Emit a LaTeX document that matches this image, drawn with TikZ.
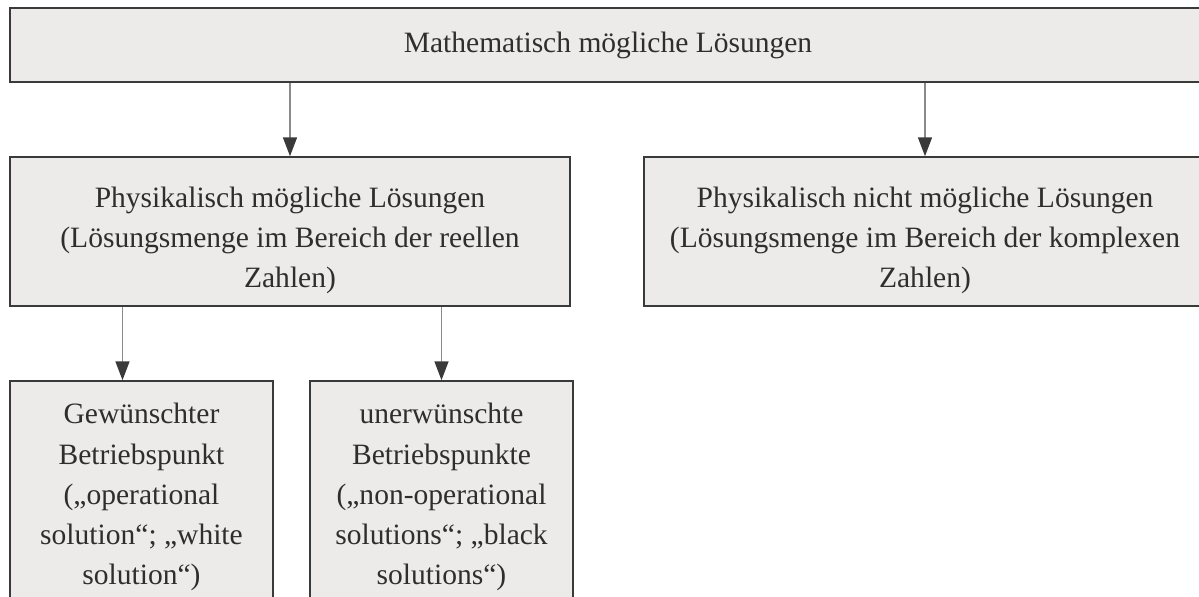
\documentclass[tikz,border=0pt]{standalone}
\usepackage{fontspec}
\setmainfont{Liberation Serif}
\usetikzlibrary{arrows.meta, positioning}

\definecolor{boxfill}{HTML}{EDEBE9}
\definecolor{boxline}{HTML}{3A3A3A}
\definecolor{boxtext}{HTML}{2E2E2E}
\definecolor{stem}{HTML}{8A8A8A}

\begin{document}
\begin{tikzpicture}[
    x=0.025cm,
    y=-0.025cm,
    >={Triangle[length=0.47cm, width=0.35cm, color=boxline]},
    box/.style={draw=boxline, fill=boxfill, line width=1.1pt, text=boxtext,
        align=center, inner sep=0pt,
        font=\fontsize{21}{28.5}\selectfont},
    link/.style={->, draw=stem, line width=0.9pt},
]
    \useasboundingbox (0,0) rectangle (1199,597);

    \node[box, minimum width=29.9cm,  minimum height=1.85cm]  (maths)    at (608,45)    {Mathematisch mögliche Lösungen};
    \node[box, minimum width=14cm,    minimum height=3.725cm] (real)     at (290,231.5) {\rule{0pt}{27.5pt}Physikalisch mögliche Lösungen\\(Lösungsmenge im Bereich der reellen\\Zahlen)};
    \node[box, minimum width=14.05cm, minimum height=3.725cm] (complex)  at (925,231.5) {\rule{0pt}{27.5pt}Physikalisch nicht mögliche Lösungen\\(Lösungsmenge im Bereich der komplexen\\Zahlen)};
    \node[box, minimum width=6.575cm, minimum height=5.8cm]   (wanted)   at (141.5,497) {Gewünschter\\Betriebspunkt\\(„operational\\solution“; „white\\solution“)};
    \node[box, minimum width=6.575cm, minimum height=5.8cm]   (unwanted) at (441.5,497) {unerwünschte\\Betriebspunkte\\(„non-operational\\solutions“; „black\\solutions“)};

    \coordinate (wanted-in) at ([xshift=-0.475cm]wanted.north);

    \path
        (maths.south -| real.north)    edge [link] (real.north)
        (maths.south -| complex.north) edge [link] (complex.north)
        (real.south -| wanted-in)      edge [link] (wanted-in)
        (real.south -| unwanted.north) edge [link] (unwanted.north)
    ;
\end{tikzpicture}
\end{document}
